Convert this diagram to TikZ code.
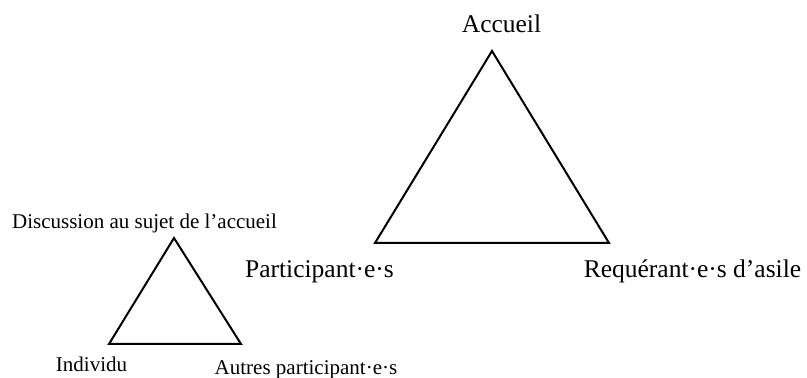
\documentclass[tikz,border=0pt]{standalone}
\usepackage{fontspec}
\setmainfont{Liberation Serif}
\begin{document}
\begin{tikzpicture}[x=1pt, y=1pt, line join=miter, line width=2pt,
  bigtxt/.style={font=\fontsize{25.5}{28}\selectfont, anchor=base, inner sep=0pt},
  smalltxt/.style={font=\fontsize{21}{24}\selectfont, anchor=base, inner sep=0pt}]
\useasboundingbox (0,0) rectangle (807,378);
% grand triangle
\coordinate (A) at (492,327);
\coordinate (P) at (375,135);
\coordinate (R) at (609,135);
\draw (A)--(R)--(P)--cycle;
\node[bigtxt] (accueil) at (501.5,345) {Accueil};
\node[bigtxt] (particip) at (319.5,100) {Participant·e·s};
\node[bigtxt] (requerant) at (692.5,100) {Requérant·e·s d’asile};
% petit triangle
\coordinate (D) at (174,140);
\coordinate (I) at (109,34);
\coordinate (O) at (241,34);
\draw (D)--(O)--(I)--cycle;
\node[smalltxt] (discussion) at (144.5,149) {Discussion au sujet de l’accueil};
\node[smalltxt] (individu) at (91.5,6) {Individu};
\node[smalltxt] (autres) at (306,3) {Autres participant·e·s};
\end{tikzpicture}
\end{document}
